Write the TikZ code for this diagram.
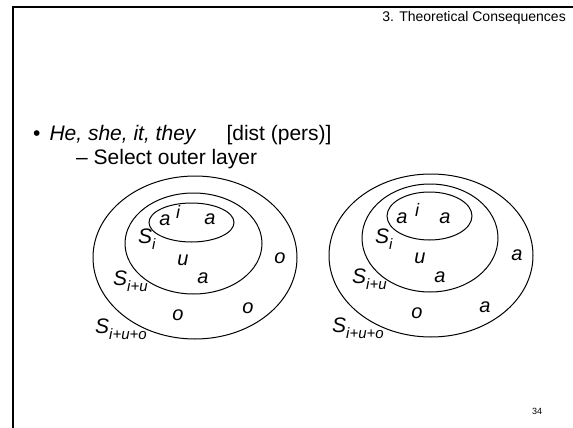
\documentclass[tikz,border=0pt]{standalone}
\usepackage{fontspec}
\setmainfont{Liberation Sans}
\newcommand{\lowidx}[1]{\raisebox{-6.5pt}{\fontsize{15}{15}\selectfont\itshape #1}}
\begin{document}
\begin{tikzpicture}[x=1pt,y=-1pt,
  lay/.style={draw,line width=1pt},
  lbl/.style={font=\fontsize{20}{20}\selectfont\itshape, inner sep=0pt},
  slbl/.style={font=\fontsize{21}{21}\selectfont\itshape, inner sep=0pt, anchor=base west},
  frame/.style={line width=2pt}]
\useasboundingbox (0,0) rectangle (573,428);
% slide frame
\draw[frame] (13,428) -- (13,7) -- (573,7);
% header, bullets, page number
\node[font=\fontsize{14}{14}\selectfont, anchor=base east, inner sep=0pt] (hdr) at (566,22) {3. Theoretical Consequences};
\node[font=\fontsize{21}{21}\selectfont, anchor=base west, inner sep=0pt] (b1) at (33,140)
  {\textbullet\hspace{9pt}\textit{He, she, it, they}\hspace{30pt}[dist (pers)]};
\node[font=\fontsize{21}{21}\selectfont, anchor=base west, inner sep=0pt] (b2) at (76,164) {– Select outer layer};
\node[font=\fontsize{9}{9}\selectfont, inner sep=0pt] (pg) at (537,411) {34};
% left diagram
\draw[lay] (195,257.5) ellipse [x radius=102, y radius=81.5];
\draw[lay] (193.5,243.5) ellipse [x radius=68.5, y radius=50.5];
\draw[lay] (191.5,222.5) ellipse [x radius=42.5, y radius=19.5];
\node[lbl] (la1) at (165,220) {a};
\node[lbl, font=\fontsize{18}{18}\selectfont\itshape] (li1) at (178,212) {i};
\node[lbl] (la2) at (210,219) {a};
\node[slbl] (lS1) at (138,243) {S\lowidx{i}};
\node[lbl] (lu) at (183,260) {u};
\node[lbl] (la3) at (203,278) {a};
\node[lbl] (lo1) at (280,258) {o};
\node[slbl] (lS2) at (113,285) {S\lowidx{i+u}};
\node[lbl] (lo2) at (178,315) {o};
\node[lbl] (lo3) at (248,308) {o};
\node[slbl] (lS3) at (95,333) {S\lowidx{i+u+o}};
% right diagram
\draw[lay] (431,255.5) ellipse [x radius=102, y radius=81.5];
\draw[lay] (430,238) ellipse [x radius=68, y radius=54];
\draw[lay] (429.5,216) ellipse [x radius=42.5, y radius=24];
\node[lbl] (ra1) at (402,218) {a};
\node[lbl, font=\fontsize{18}{18}\selectfont\itshape] (ri1) at (417,210) {i};
\node[lbl] (ra2) at (445,218) {a};
\node[slbl] (rS1) at (375,243) {S\lowidx{i}};
\node[lbl] (ru) at (420,258) {u};
\node[lbl] (ra3) at (440,277) {a};
\node[lbl] (ra4) at (517,255) {a};
\node[slbl] (rS2) at (352,283) {S\lowidx{i+u}};
\node[lbl] (ro1) at (417,313) {o};
\node[lbl] (ra5) at (485,307) {a};
\node[slbl] (rS3) at (332,332) {S\lowidx{i+u+o}};
\end{tikzpicture}
\end{document}
